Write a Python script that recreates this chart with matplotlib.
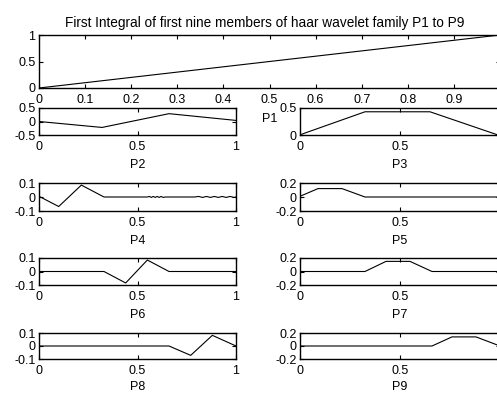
import matplotlib
matplotlib.use("Agg")
import matplotlib.pyplot as plt
from matplotlib.ticker import FuncFormatter

plt.rcParams['font.family'] = ['Liberation Sans', 'DejaVu Sans']
plt.rcParams['font.size'] = 9
plt.rcParams['axes.unicode_minus'] = False

# First integrals of the haar family, sampled at the break points
p1_x = [0.0, 1.0]
p1_y = [0.0, 1.0]

p2_x = [0.0, 0.32, 0.66, 1.0]
p2_y = [0.0, -0.22, 0.29, 0.04]

p3_x = [0.0, 0.02, 0.325, 0.65, 0.99]
p3_y = [0.0, 0.03, 0.43, 0.43, 0.0]

p4_x = [0.0, 0.10, 0.215, 0.33, 0.55, 0.56, 0.57, 0.58, 0.59, 0.60, 0.61, 0.62, 0.63, 0.64,
        0.79, 0.81, 0.83, 0.85, 0.87, 0.89, 0.91, 0.93, 0.95, 0.97, 0.99, 1.0]
p4_y = [0.005, -0.068, 0.085, 0.0, 0.0, 0.004, -0.003, 0.004, -0.003, 0.004, -0.003, 0.004, -0.003, 0.0,
        0.0, 0.004, -0.003, 0.004, -0.003, 0.004, -0.003, 0.004, -0.003, 0.004, -0.003, 0.0]

p5_x = [0.0, 0.09, 0.21, 0.325, 1.0]
p5_y = [0.01, 0.12, 0.12, 0.0, 0.0]

p6_x = [0.0, 0.33, 0.44, 0.55, 0.66, 1.0]
p6_y = [0.0, 0.0, -0.085, 0.085, 0.0, 0.0]

p7_x = [0.0, 0.325, 0.43, 0.55, 0.66, 1.0]
p7_y = [0.0, 0.0, 0.15, 0.15, 0.0, 0.0]

p8_x = [0.0, 0.66, 0.77, 0.88, 1.0]
p8_y = [0.0, 0.0, -0.072, 0.082, 0.0]

p9_x = [0.0, 0.66, 0.76, 0.88, 1.0]
p9_y = [0.0, 0.0, 0.14, 0.14, 0.0]

series = [
    ("P2", p2_x, p2_y, (-0.5, 0.5), [-0.5, 0, 0.5]),
    ("P3", p3_x, p3_y, (0.0, 0.5), [0, 0.5]),
    ("P4", p4_x, p4_y, (-0.1, 0.1), [-0.1, 0, 0.1]),
    ("P5", p5_x, p5_y, (-0.2, 0.2), [-0.2, 0, 0.2]),
    ("P6", p6_x, p6_y, (-0.1, 0.1), [-0.1, 0, 0.1]),
    ("P7", p7_x, p7_y, (-0.2, 0.2), [-0.2, 0, 0.2]),
    ("P8", p8_x, p8_y, (-0.1, 0.1), [-0.1, 0, 0.1]),
    ("P9", p9_x, p9_y, (-0.2, 0.2), [-0.2, 0, 0.2]),
]

W, H = 497, 394
fig = plt.figure(figsize=(W / 100, H / 100), dpi=100)
fmt = FuncFormatter(lambda v, pos: "%g" % round(v, 6))
# axes whose right end runs past the frame get no label at x = 1
fmt_open = FuncFormatter(lambda v, pos: "" if abs(v - 1) < 1e-9 else "%g" % round(v, 6))


def px_axes(left, top, right, bottom):
    return fig.add_axes([left / W, 1 - bottom / H, (right - left) / W, (bottom - top) / H])


def style(ax, open_right=False):
    ax.tick_params(direction='in', length=3, width=0.8, top=True, right=True,
                   labelsize=9, colors='black')
    ax.tick_params(axis='x', pad=4)
    ax.tick_params(axis='y', pad=2.5)
    for s in ax.spines.values():
        s.set_linewidth(1.0)
        s.set_color('black')
    ax.xaxis.set_major_formatter(fmt_open if open_right else fmt)
    ax.yaxis.set_major_formatter(fmt)


# top panel: P1
ax = px_axes(39, 35, 500, 88)
ax.plot(p1_x, p1_y, color='black', lw=0.8)
ax.set_xlim(0, 1)
ax.set_ylim(0, 1)
ax.set_xticks([0, 0.1, 0.2, 0.3, 0.4, 0.5, 0.6, 0.7, 0.8, 0.9, 1.0])
ax.set_yticks([0, 0.5, 1])
style(ax, open_right=True)
ax.set_title("First Integral of first nine members of haar wavelet family P1 to P9",
             fontsize=9.8, pad=6, x=0.49)
ax.set_xlabel("P1", fontsize=9, labelpad=5)

cols = [(39, 236), (300, 500)]
rows = [(108, 135), (183, 211), (258, 285), (333, 359)]
label_pads = [5, 5, 5, 3.5]

for i, (name, xs, ys, ylim, yt) in enumerate(series):
    r, c = divmod(i, 2)
    left, right = cols[c]
    top, bottom = rows[r]
    ax = px_axes(left, top, right, bottom)
    ax.plot(xs, ys, color='black', lw=0.8)
    ax.set_xlim(0, 1)
    ax.set_ylim(*ylim)
    ax.set_xticks([0, 0.5, 1])
    ax.set_yticks(yt)
    style(ax, open_right=(c == 1))
    ax.set_xlabel(name, fontsize=9, labelpad=label_pads[r])

fig.savefig("out.png", dpi=100)
